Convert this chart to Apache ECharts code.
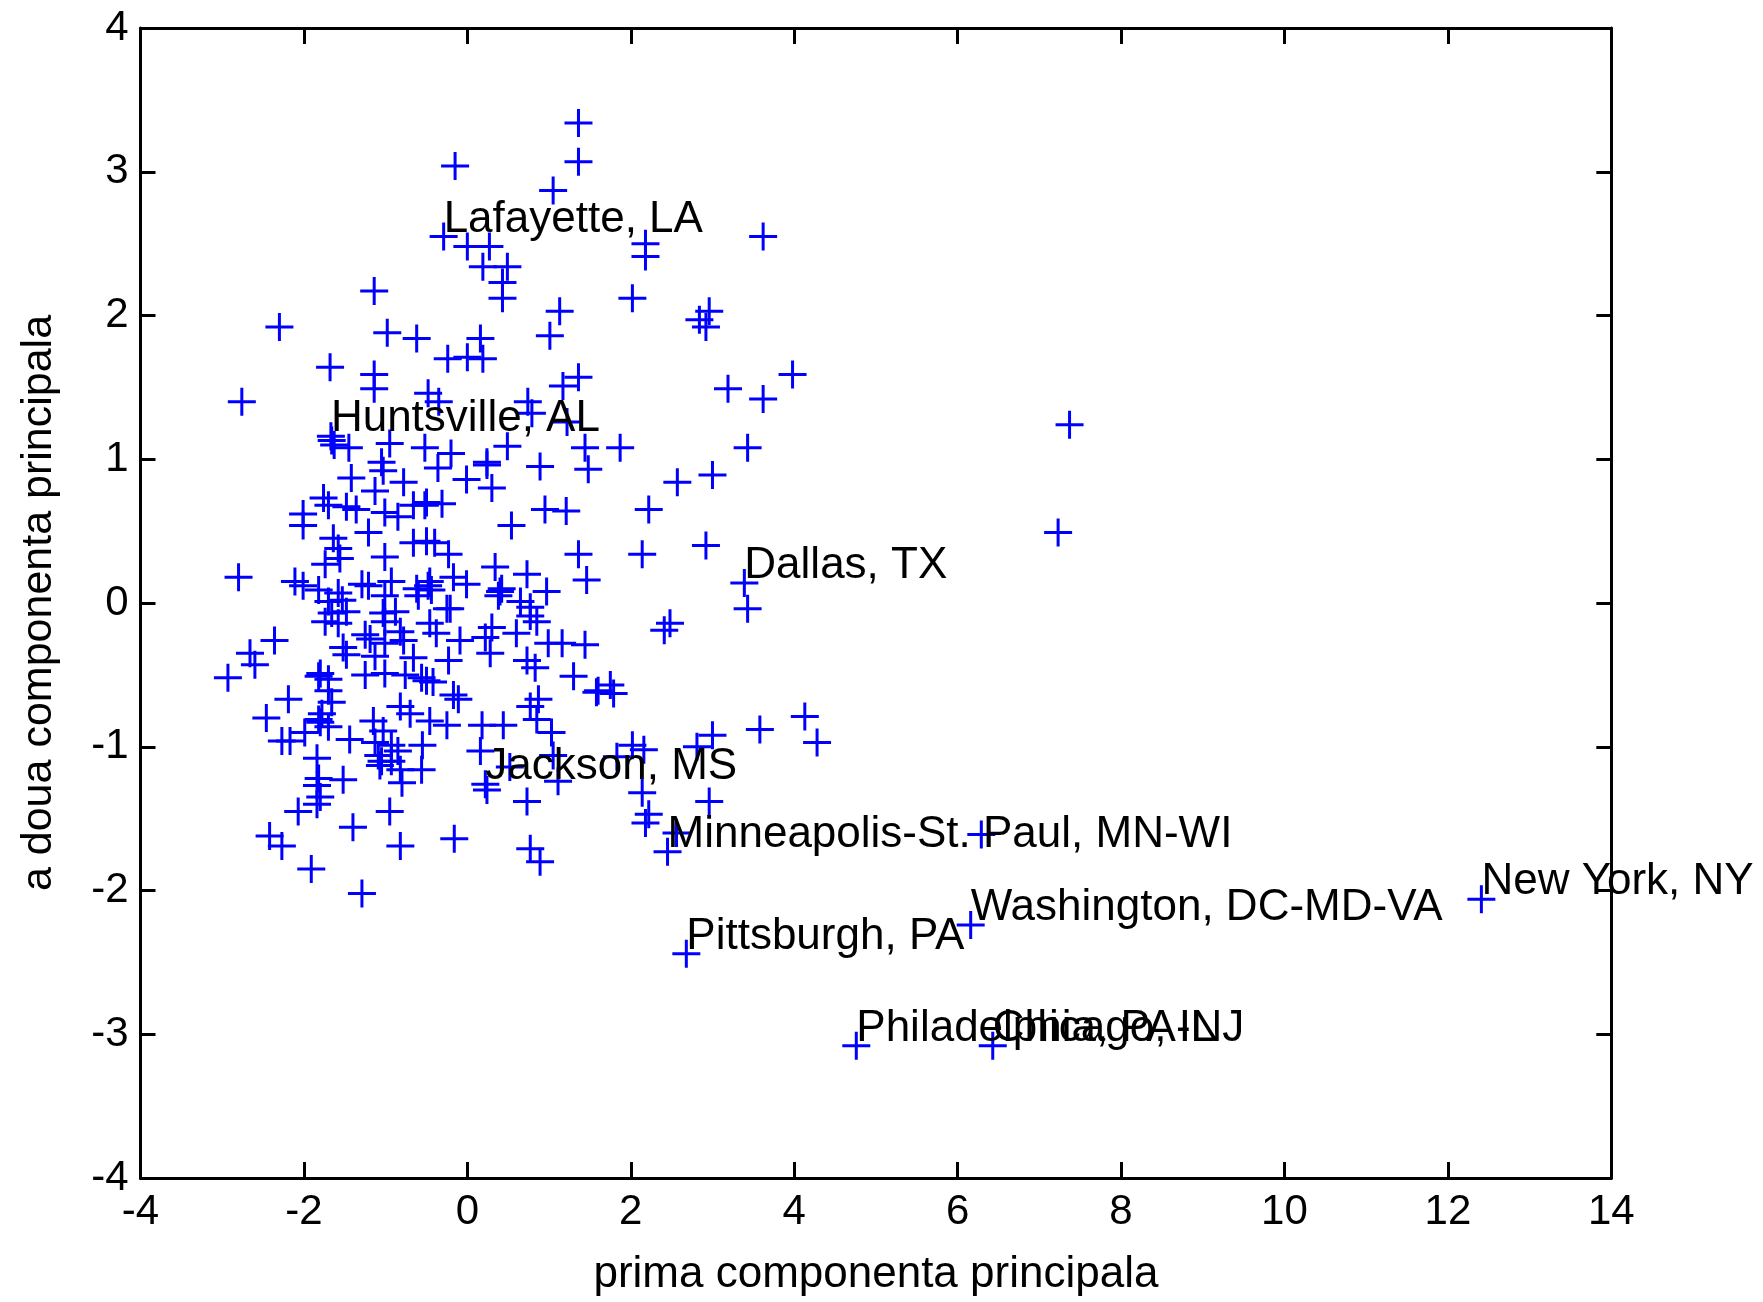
<!DOCTYPE html>
<html>
<head>
<meta charset="utf-8">
<script src="https://cdn.jsdelivr.net/npm/echarts@6/dist/echarts.min.js"></script>
<style>
  html, body { margin: 0; padding: 0; background: #ffffff; }
  #chart { width: 1763px; height: 1302px; }
</style>
</head>
<body>
<div id="chart"></div>
<script>
// ---- Data ----
const xTicks = [-4, -2, 0, 2, 4, 6, 8, 10, 12, 14];
const yTicks = [-4, -3, -2, -1, 0, 1, 2, 3, 4];
const xTitle = 'prima componenta principala';
const yTitle = 'a doua componenta principala';

// unlabeled cities: first and second principal component scores
const pc1 = [
  1.36, 1.36, -0.15, 1.05, 0.00, 0.27, 0.19, 0.49, 0.43, 0.43, 2.18, 2.18, 3.62, -1.14, 2.02, -2.30, 1.13, 2.96, 2.84, 2.92,
  -0.98, -0.62, 0.16, 1.01, -0.24, 0.00, 0.19, -1.68, -1.14, -1.14, 1.36, 1.17, 3.98, 3.19, 3.62, -2.76, -0.48, -0.35, 0.74, 0.79,
  7.37, 1.22,
  -1.66, -1.45, -0.95, -0.52, -0.20, 0.24, 0.49, 0.89, 1.44, 1.87, 1.48, 3.43, 3.00, 2.57, -1.05, -1.63,
  -1.42, -1.03, -1.13, -0.78, -1.76, -1.70, -1.48, -1.36, -2.01, -2.01, -1.21, -1.01, -0.85, -0.66, -0.36, -0.01, 0.24, 0.30,
  -0.50, -0.52, -0.31, 0.95, 1.21, 0.54, 2.22,
  -2.80, -2.36, -2.66, -2.60, -2.93, -2.46, -2.27, 1.36, 1.46, 1.16, 1.44, 1.30, 1.58, 2.92, 2.14, 3.43, 2.48, 2.41,
  1.75, 1.60, 1.79, 3.58, 4.13, 4.28, 3.00, 2.81, 2.02, 2.16, 1.83, 1.11, 2.14, 2.96, 2.22, 2.18, 2.56, 6.29, 7.23, 1.03, 1.05,
  -1.64, -1.58, -1.56, -1.74, -1.01, -0.66, -2.01, -2.11, -1.82, -1.58, -1.70, -1.53, -1.29, -1.21, -0.93, -1.01, -0.62, -0.60,
  -0.50, -0.40, -0.23, 0.34, 0.73, -0.46, -0.44, -0.48, -0.17, -0.01, 0.40, 0.42, 0.38, 0.97, 0.65, -0.21, 0.77,
  -1.66, -1.48, -1.03, -0.88, -1.01, -1.74, -1.58, -1.25, -1.19, -0.82, -0.78, -1.01, -1.48, -1.52, -1.13, -0.66, -1.82, -1.80,
  -1.70, -1.25, -1.01, -0.76, -0.56, -2.19, -1.70, -1.66, -1.78, -1.82, -1.80, -1.70, -1.99, -1.15, -1.03, -1.13, -1.44, -0.82,
  -0.70, -2.17, -0.93, -0.85,
  -0.25, -0.46, -0.38, -0.09, 0.22, 0.30, 0.60, 0.77, 0.85, 0.99, -0.23, 0.28, 0.73, 0.83, -0.50, -0.42, -0.17, -0.11, 0.77,
  0.87, -0.46, -0.25, 0.18, 0.44, 0.85, 0.16, -0.55,
  -1.84, -1.82, -1.84, -1.80, -1.84, -2.07, -1.52, -1.40, -2.42, -2.27, -1.91, -1.29, -0.95, -0.82, -0.16, 0.77, 0.89, 0.73,
  0.24, -1.07, -1.05, -1.09, -0.82, -0.80, -0.56, 0.52, -0.93
];
const pc2 = [
  3.34, 3.07, 3.04, 2.87, 2.48, 2.48, 2.34, 2.34, 2.23, 2.12, 2.50, 2.41, 2.55, 2.17, 2.12, 1.92, 2.03, 2.03, 1.97, 1.92,
  1.88, 1.84, 1.84, 1.86, 1.70, 1.71, 1.70, 1.64, 1.59, 1.49, 1.57, 1.51, 1.59, 1.49, 1.42, 1.40, 1.46, 1.40, 1.40, 1.32,
  1.24, 1.26,
  1.13, 1.08, 1.11, 1.08, 1.04, 0.98, 1.09, 0.95, 1.08, 1.08, 0.93, 1.08, 0.89, 0.84, 0.98, 1.10,
  0.87, 0.92, 0.78, 0.84, 0.73, 0.68, 0.67, 0.65, 0.62, 0.54, 0.49, 0.63, 0.60, 0.68, 0.94, 0.86, 0.96, 0.80,
  0.70, 0.68, 0.69, 0.65, 0.64, 0.54, 0.65,
  0.18, -0.26, -0.35, -0.43, -0.52, -0.80, -0.96, 0.34, 0.16, -0.28, -0.29, -0.51, -0.62, 0.40, 0.34, -0.04, -0.14, -0.19,
  -0.57, -0.61, -0.63, -0.88, -0.79, -0.97, -0.92, -1.00, -0.99, -1.02, -1.07, -1.24, -1.32, -1.38, -1.47, -1.53, -1.60, -1.61, 0.49, -0.90, -1.06,
  0.45, 0.38, 0.31, 0.27, 0.32, 0.42, 0.12, 0.15, 0.09, 0.07, 0.01, 0.02, 0.13, 0.12, 0.15, 0.05, 0.10, 0.05,
  0.43, 0.42, 0.34, 0.25, 0.20, 0.15, 0.09, 0.12, 0.18, 0.13, 0.08, 0.10, 0.05, 0.08, 0.01, -0.04, -0.03,
  -0.07, -0.06, -0.07, -0.06, -0.13, -0.13, -0.14, -0.22, -0.25, -0.20, -0.26, -0.28, -0.36, -0.31, -0.37, -0.38, -0.51, -0.49,
  -0.53, -0.50, -0.49, -0.50, -0.52, -0.67, -0.61, -0.69, -0.77, -0.81, -0.83, -0.86, -0.90, -0.82, -0.89, -0.97, -0.95, -0.72,
  -0.77, -0.96, -0.99, -1.03,
  -0.04, -0.14, -0.21, -0.26, -0.24, -0.17, -0.21, -0.09, -0.13, -0.28, -0.40, -0.35, -0.40, -0.45, -0.54, -0.55, -0.64, -0.67, -0.72,
  -0.67, -0.82, -0.85, -0.85, -0.85, -0.81, -1.03, -0.99,
  -1.08, -1.22, -1.27, -1.35, -1.40, -1.45, -1.23, -1.56, -1.62, -1.69, -1.85, -2.02, -1.45, -1.69, -1.64, -1.71, -1.80, -1.38,
  -1.30, -1.13, -1.10, -1.06, -1.16, -1.25, -1.16, -1.14, -1.10
];

// labeled cities
const labeledNames = [
  'Lafayette, LA', 'Huntsville, AL', 'Dallas, TX', 'Jackson, MS', 'Minneapolis-St. Paul, MN-WI',
  'Pittsburgh, PA', 'Washington, DC-MD-VA', 'New York, NY', 'Philadelphia, PA-NJ', 'Chicago, IL'
];
const labeledPc1 = [-0.29, -1.67, 3.39, 0.22, 2.45, 2.68, 6.16, 12.41, 4.76, 6.43];
const labeledPc2 = [2.55, 1.16, 0.14, -1.26, -1.73, -2.44, -2.24, -2.06, -3.08, -3.08];

// ---- Chart ----
const FONT = '"Liberation Sans", Arial, Helvetica, sans-serif';
const plusPath = 'path://M12.5,0H15.5V12.5H28V15.5H15.5V28H12.5V15.5H0V12.5H12.5Z';
const markerColor = '#0000ff';

const chart = echarts.init(document.getElementById('chart'), null, { renderer: 'canvas' });

const xMin = xTicks[0], xMax = xTicks[xTicks.length - 1], xInt = xTicks[1] - xTicks[0];
const yMin = yTicks[0], yMax = yTicks[yTicks.length - 1], yInt = yTicks[1] - yTicks[0];

function baseAxis(min, max, interval, showLabel, tickLen) {
  return {
    type: 'value', min: min, max: max, interval: interval,
    axisLine: { show: true, onZero: false, lineStyle: { color: '#000', width: 3 } },
    axisTick: { show: true, inside: true, length: tickLen, lineStyle: { color: '#000', width: 3 } },
    axisLabel: { show: showLabel, color: '#000', fontSize: 42, fontFamily: FONT, margin: 13 },
    splitLine: { show: false }
  };
}

const xBottom = Object.assign(baseAxis(xMin, xMax, xInt, true, 16), {
  position: 'bottom', name: xTitle, nameLocation: 'middle', nameGap: 75,
  nameTextStyle: { color: '#000', fontSize: 44, fontFamily: FONT }
});
const xTop = Object.assign(baseAxis(xMin, xMax, xInt, false, 16), { position: 'top' });
const yLeft = Object.assign(baseAxis(yMin, yMax, yInt, true, 15), {
  position: 'left', name: yTitle, nameLocation: 'middle', nameGap: 80,
  nameTextStyle: { color: '#000', fontSize: 43, fontFamily: FONT }
});
yLeft.axisLabel.margin = 12;
const yRight = Object.assign(baseAxis(yMin, yMax, yInt, false, 15), { position: 'right' });

chart.setOption({
  backgroundColor: '#ffffff',
  animation: false,
  grid: { left: 140.5, right: 151.7, top: 28, bottom: 118, containLabel: false },
  xAxis: [xBottom, xTop],
  yAxis: [yLeft, yRight],
  series: [
    {
      type: 'scatter', xAxisIndex: 0, yAxisIndex: 0,
      symbol: plusPath, symbolSize: 28,
      itemStyle: { color: markerColor, opacity: 1 },
      silent: true,
      data: pc1.map((v, i) => [v, pc2[i]])
    },
    {
      type: 'scatter', xAxisIndex: 0, yAxisIndex: 0,
      symbol: plusPath, symbolSize: 28,
      itemStyle: { color: markerColor, opacity: 1 },
      silent: true,
      z: 3,
      label: {
        show: true, formatter: '{b}', position: [14, 14], offset: [0, 5],
        align: 'left', verticalAlign: 'bottom', lineHeight: 44,
        color: '#000', opacity: 1, fontSize: 44, fontFamily: FONT
      },
      data: labeledNames.map((n, i) => ({ name: n, value: [labeledPc1[i], labeledPc2[i]] }))
    }
  ]
});
</script>
</body>
</html>
